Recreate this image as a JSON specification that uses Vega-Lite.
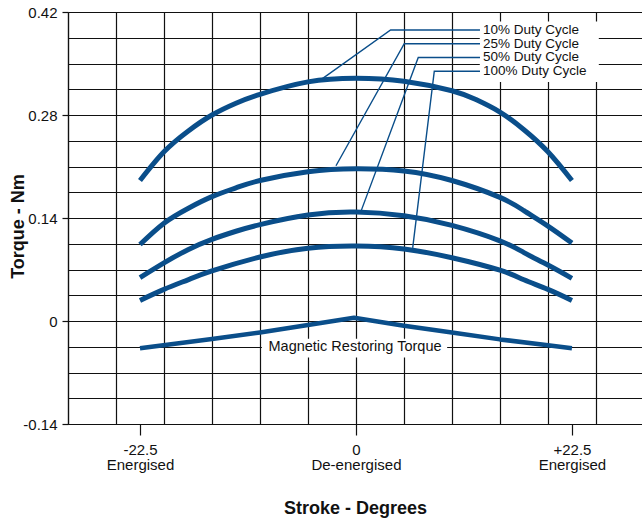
{
  "$schema": "https://vega.github.io/schema/vega-lite/v6.json",
  "width": 574,
  "height": 412,
  "autosize": {"type": "none"},
  "padding": {"left": 68, "top": 12, "right": 0, "bottom": 97},
  "background": "white",
  "config": {"view": {"stroke": null}, "font": "Liberation Sans"},
  "datasets": {
    "curves": [
      {"series": "10%", "x": -22.5, "y": 0.191},
      {"series": "10%", "x": -20, "y": 0.230},
      {"series": "10%", "x": -17.5, "y": 0.258},
      {"series": "10%", "x": -15, "y": 0.280},
      {"series": "10%", "x": -12.5, "y": 0.296},
      {"series": "10%", "x": -10, "y": 0.308},
      {"series": "10%", "x": -5, "y": 0.325},
      {"series": "10%", "x": 0, "y": 0.330},
      {"series": "10%", "x": 5, "y": 0.326},
      {"series": "10%", "x": 10, "y": 0.313},
      {"series": "10%", "x": 12.5, "y": 0.301},
      {"series": "10%", "x": 15, "y": 0.284},
      {"series": "10%", "x": 17.5, "y": 0.260},
      {"series": "10%", "x": 20, "y": 0.230},
      {"series": "10%", "x": 22.5, "y": 0.191},
      {"series": "25%", "x": -22.5, "y": 0.104},
      {"series": "25%", "x": -20, "y": 0.133},
      {"series": "25%", "x": -17.5, "y": 0.153},
      {"series": "25%", "x": -15, "y": 0.169},
      {"series": "25%", "x": -12.5, "y": 0.181},
      {"series": "25%", "x": -10, "y": 0.191},
      {"series": "25%", "x": -5, "y": 0.203},
      {"series": "25%", "x": 0, "y": 0.207},
      {"series": "25%", "x": 5, "y": 0.204},
      {"series": "25%", "x": 10, "y": 0.191},
      {"series": "25%", "x": 15, "y": 0.168},
      {"series": "25%", "x": 17.5, "y": 0.150},
      {"series": "25%", "x": 20, "y": 0.129},
      {"series": "25%", "x": 22.5, "y": 0.106},
      {"series": "50%", "x": -22.5, "y": 0.059},
      {"series": "50%", "x": -20, "y": 0.079},
      {"series": "50%", "x": -17.5, "y": 0.097},
      {"series": "50%", "x": -15, "y": 0.111},
      {"series": "50%", "x": -12.5, "y": 0.122},
      {"series": "50%", "x": -10, "y": 0.131},
      {"series": "50%", "x": -5, "y": 0.144},
      {"series": "50%", "x": 0, "y": 0.148},
      {"series": "50%", "x": 5, "y": 0.143},
      {"series": "50%", "x": 10, "y": 0.130},
      {"series": "50%", "x": 15, "y": 0.109},
      {"series": "50%", "x": 17.5, "y": 0.093},
      {"series": "50%", "x": 20, "y": 0.076},
      {"series": "50%", "x": 22.5, "y": 0.058},
      {"series": "100%", "x": -22.5, "y": 0.028},
      {"series": "100%", "x": -20, "y": 0.043},
      {"series": "100%", "x": -17.5, "y": 0.056},
      {"series": "100%", "x": -15, "y": 0.068},
      {"series": "100%", "x": -10, "y": 0.087},
      {"series": "100%", "x": -5, "y": 0.099},
      {"series": "100%", "x": 0, "y": 0.102},
      {"series": "100%", "x": 5, "y": 0.098},
      {"series": "100%", "x": 10, "y": 0.086},
      {"series": "100%", "x": 15, "y": 0.069},
      {"series": "100%", "x": 17.5, "y": 0.056},
      {"series": "100%", "x": 20, "y": 0.043},
      {"series": "100%", "x": 22.5, "y": 0.028}
    ],
    "restoring": [
      {"x": -22.5, "y": -0.037},
      {"x": -15, "y": -0.0245},
      {"x": -10, "y": -0.0155},
      {"x": -5, "y": -0.0055},
      {"x": -0.2, "y": 0.0045},
      {"x": 5, "y": -0.0065},
      {"x": 10, "y": -0.0155},
      {"x": 15, "y": -0.025},
      {"x": 20, "y": -0.033},
      {"x": 22.5, "y": -0.037}
    ],
    "leaders": [
      {"series": "10%", "order": 1, "x": -3.75, "y": 0.327},
      {"series": "10%", "order": 2, "x": 3.61, "y": 0.3955},
      {"series": "10%", "order": 3, "x": 12.92, "y": 0.3955},
      {"series": "25%", "order": 1, "x": -2.08, "y": 0.211},
      {"series": "25%", "order": 2, "x": 5.03, "y": 0.3768},
      {"series": "25%", "order": 3, "x": 12.92, "y": 0.3768},
      {"series": "50%", "order": 1, "x": 0.52, "y": 0.149},
      {"series": "50%", "order": 2, "x": 6.49, "y": 0.3582},
      {"series": "50%", "order": 3, "x": 12.92, "y": 0.3582},
      {"series": "100%", "order": 1, "x": 5.91, "y": 0.0995},
      {"series": "100%", "order": 2, "x": 8.16, "y": 0.3395},
      {"series": "100%", "order": 3, "x": 12.92, "y": 0.3395}
    ],
    "boxes": [
      {"x": 12.9, "x2": 25.3, "y": 0.325, "y2": 0.407},
      {"x": -9.8, "x2": 9.5, "y": -0.0495, "y2": -0.024}
    ],
    "labels": [
      {"text": "10% Duty Cycle", "x": 13.23, "y": 0.3955},
      {"text": "25% Duty Cycle", "x": 13.23, "y": 0.3768},
      {"text": "50% Duty Cycle", "x": 13.23, "y": 0.3582},
      {"text": "100% Duty Cycle", "x": 13.23, "y": 0.3395}
    ],
    "centerLabel": [
      {"text": "Magnetic Restoring Torque", "x": -0.1, "y": -0.035}
    ]
  },
  "encoding": {
    "x": {
      "field": "x",
      "type": "quantitative",
      "scale": {"domain": [-30, 29.8], "nice": false, "zero": false},
      "axis": {
        "title": "Stroke - Degrees",
        "values": [-30, -25, -22.5, -20, -15, -10, -5, 0, 5, 10, 15, 20, 22.5, 25],
        "grid": true,
        "gridColor": "#111111",
        "gridWidth": 1.2,
        "gridOpacity": {"condition": {"test": "abs(datum.value) == 22.5", "value": 0}, "value": 1},
        "tickOpacity": {"condition": {"test": "abs(datum.value) == 22.5 || datum.value == 0", "value": 1}, "value": 0},
        "tickSize": 11,
        "tickColor": "#111111",
        "tickWidth": 1.2,
        "domainColor": "#111111",
        "domainWidth": 1.2,
        "labelExpr": "datum.value == 0 ? ['0', 'De-energised'] : datum.value == -22.5 ? ['-22.5', 'Energised'] : datum.value == 22.5 ? ['+22.5', 'Energised'] : ''",
        "labelFontSize": 15,
        "labelColor": "#111111",
        "labelPadding": 7,
        "labelLineHeight": 15.5,
        "labelOverlap": false,
        "labelFlush": false,
        "titleFontSize": 18,
        "titleFontWeight": "bold",
        "titleColor": "#111111",
        "titleY": 84,
        "titleBaseline": "middle"
      }
    },
    "y": {
      "field": "y",
      "type": "quantitative",
      "scale": {"domain": [-0.14, 0.42], "nice": false, "zero": false},
      "axis": {
        "title": "Torque - Nm",
        "values": [-0.14, -0.105, -0.07, -0.035, 0, 0.035, 0.07, 0.105, 0.14, 0.175, 0.21, 0.245, 0.28, 0.315, 0.35, 0.385, 0.42],
        "grid": true,
        "gridColor": "#111111",
        "gridWidth": 1.2,
        "tickOpacity": {"condition": {"test": "indexof([-0.14, 0, 0.14, 0.28, 0.42], datum.value) >= 0", "value": 1}, "value": 0},
        "tickSize": 6,
        "tickColor": "#111111",
        "tickWidth": 1.2,
        "domainColor": "#111111",
        "domainWidth": 1.2,
        "labelExpr": "datum.value == -0.14 ? '-0.14' : datum.value == 0 ? '0' : datum.value == 0.14 ? '0.14' : datum.value == 0.28 ? '0.28' : datum.value == 0.42 ? '0.42' : ''",
        "labelFontSize": 15,
        "labelColor": "#111111",
        "labelPadding": 5,
        "labelOverlap": false,
        "titleFontSize": 18,
        "titleFontWeight": "bold",
        "titleColor": "#111111",
        "titleAngle": -90,
        "titleX": -50,
        "titleY": 214,
        "titleBaseline": "middle",
        "titleAlign": "center"
      }
    }
  },
  "layer": [
    {
      "data": {"name": "boxes"},
      "mark": {"type": "rect", "fill": "white", "stroke": null},
      "encoding": {"x2": {"field": "x2"}, "y2": {"field": "y2"}}
    },
    {
      "data": {"name": "curves"},
      "mark": {"type": "line", "color": "#0a4e8a", "strokeWidth": 5, "interpolate": "natural", "strokeCap": "butt"},
      "encoding": {"detail": {"field": "series"}, "order": {"field": "x", "type": "quantitative"}}
    },
    {
      "data": {"name": "restoring"},
      "mark": {"type": "line", "color": "#0a4e8a", "strokeWidth": 4.5, "interpolate": "linear", "strokeCap": "butt", "strokeJoin": "round"},
      "encoding": {"order": {"field": "x", "type": "quantitative"}}
    },
    {
      "data": {"name": "leaders"},
      "mark": {"type": "line", "color": "#0a4e8a", "strokeWidth": 1.4},
      "encoding": {"detail": {"field": "series"}, "order": {"field": "order", "type": "quantitative"}}
    },
    {
      "data": {"name": "labels"},
      "mark": {"type": "text", "align": "left", "baseline": "middle", "fontSize": 13.5, "color": "#111111"},
      "encoding": {"text": {"field": "text"}}
    },
    {
      "data": {"name": "centerLabel"},
      "mark": {"type": "text", "align": "center", "baseline": "middle", "fontSize": 14.5, "color": "#111111"},
      "encoding": {"text": {"field": "text"}}
    }
  ]
}
